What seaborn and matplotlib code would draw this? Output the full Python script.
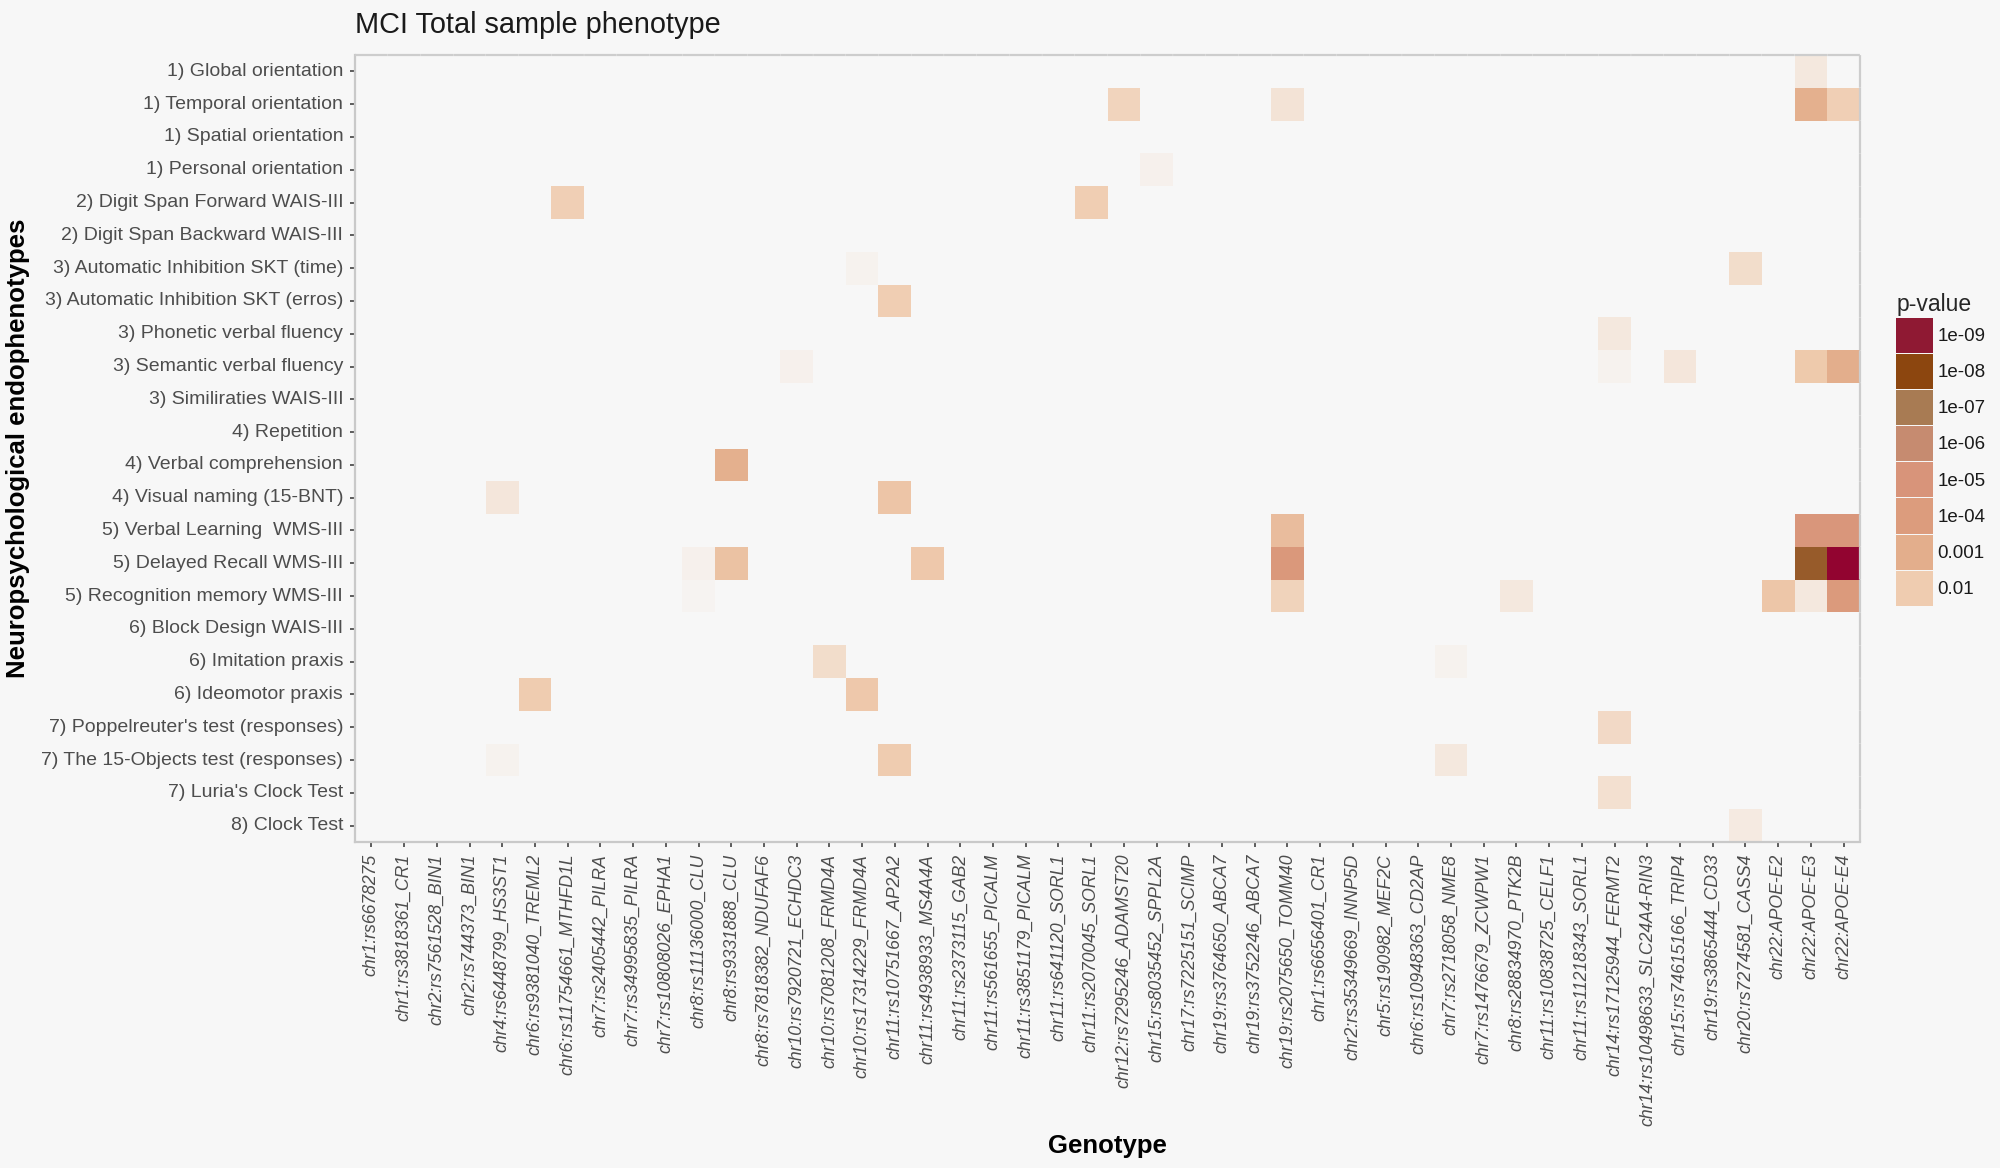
import numpy as np
import pandas as pd
import matplotlib
matplotlib.use("Agg")
import matplotlib.pyplot as plt
from matplotlib.colors import LinearSegmentedColormap
from matplotlib.patches import Patch
import seaborn as sns


# data

phenotypes = [
    "1) Global orientation",
    "1) Temporal orientation",
    "1) Spatial orientation",
    "1) Personal orientation",
    "2) Digit Span Forward WAIS-III",
    "2) Digit Span Backward WAIS-III",
    "3) Automatic Inhibition SKT (time)",
    "3) Automatic Inhibition SKT (erros)",
    "3) Phonetic verbal fluency",
    "3) Semantic verbal fluency",
    "3) Similiraties WAIS-III",
    "4) Repetition",
    "4) Verbal comprehension",
    "4) Visual naming (15-BNT)",
    "5) Verbal Learning  WMS-III",
    "5) Delayed Recall WMS-III",
    "5) Recognition memory WMS-III",
    "6) Block Design WAIS-III",
    "6) Imitation praxis",
    "6) Ideomotor praxis",
    "7) Poppelreuter's test (responses)",
    "7) The 15-Objects test (responses)",
    "7) Luria's Clock Test",
    "8) Clock Test",
]

genotypes = [
    "chr1:rs6678275", "chr1:rs3818361_CR1", "chr2:rs7561528_BIN1",
    "chr2:rs744373_BIN1", "chr4:rs6448799_HS3ST1", "chr6:rs9381040_TREML2",
    "chr6:rs11754661_MTHFD1L", "chr7:rs2405442_PILRA", "chr7:rs34995835_PILRA",
    "chr7:rs10808026_EPHA1", "chr8:rs11136000_CLU", "chr8:rs9331888_CLU",
    "chr8:rs7818382_NDUFAF6", "chr10:rs7920721_ECHDC3", "chr10:rs7081208_FRMD4A",
    "chr10:rs17314229_FRMD4A", "chr11:rs10751667_AP2A2", "chr11:rs4938933_MS4A4A",
    "chr11:rs2373115_GAB2", "chr11:rs561655_PICALM", "chr11:rs3851179_PICALM",
    "chr11:rs641120_SORL1", "chr11:rs2070045_SORL1", "chr12:rs7295246_ADAMST20",
    "chr15:rs8035452_SPPL2A", "chr17:rs7225151_SCIMP", "chr19:rs3764650_ABCA7",
    "chr19:rs3752246_ABCA7", "chr19:rs2075650_TOMM40", "chr1:rs6656401_CR1",
    "chr2:rs35349669_INNP5D", "chr5:rs190982_MEF2C", "chr6:rs10948363_CD2AP",
    "chr7:rs2718058_NME8", "chr7:rs1476679_ZCWPW1", "chr8:rs28834970_PTK2B",
    "chr11:rs10838725_CELF1", "chr11:rs11218343_SORL1", "chr14:rs17125944_FERMT2",
    "chr14:rs10498633_SLC24A4-RIN3", "chr15:rs74615166_TRIP4", "chr19:rs3865444_CD33",
    "chr20:rs7274581_CASS4", "chr22:APOE-E2", "chr22:APOE-E3", "chr22:APOE-E4",
]

# significant associations (phenotype, genotype, p-value)
hit_pheno = [
    "1) Global orientation",
    "1) Temporal orientation", "1) Temporal orientation", "1) Temporal orientation",
    "1) Temporal orientation",
    "1) Personal orientation",
    "2) Digit Span Forward WAIS-III", "2) Digit Span Forward WAIS-III",
    "3) Automatic Inhibition SKT (time)", "3) Automatic Inhibition SKT (time)",
    "3) Automatic Inhibition SKT (erros)",
    "3) Phonetic verbal fluency",
    "3) Semantic verbal fluency", "3) Semantic verbal fluency", "3) Semantic verbal fluency",
    "3) Semantic verbal fluency", "3) Semantic verbal fluency",
    "4) Verbal comprehension",
    "4) Visual naming (15-BNT)", "4) Visual naming (15-BNT)",
    "5) Verbal Learning  WMS-III", "5) Verbal Learning  WMS-III", "5) Verbal Learning  WMS-III",
    "5) Delayed Recall WMS-III", "5) Delayed Recall WMS-III", "5) Delayed Recall WMS-III",
    "5) Delayed Recall WMS-III", "5) Delayed Recall WMS-III", "5) Delayed Recall WMS-III",
    "5) Recognition memory WMS-III", "5) Recognition memory WMS-III",
    "5) Recognition memory WMS-III", "5) Recognition memory WMS-III",
    "5) Recognition memory WMS-III", "5) Recognition memory WMS-III",
    "6) Imitation praxis", "6) Imitation praxis",
    "6) Ideomotor praxis", "6) Ideomotor praxis",
    "7) Poppelreuter's test (responses)",
    "7) The 15-Objects test (responses)", "7) The 15-Objects test (responses)",
    "7) The 15-Objects test (responses)",
    "7) Luria's Clock Test",
    "8) Clock Test",
]
hit_geno = [
    "chr22:APOE-E3",
    "chr12:rs7295246_ADAMST20", "chr19:rs2075650_TOMM40", "chr22:APOE-E3",
    "chr22:APOE-E4",
    "chr15:rs8035452_SPPL2A",
    "chr6:rs11754661_MTHFD1L", "chr11:rs2070045_SORL1",
    "chr10:rs17314229_FRMD4A", "chr20:rs7274581_CASS4",
    "chr11:rs10751667_AP2A2",
    "chr14:rs17125944_FERMT2",
    "chr10:rs7920721_ECHDC3", "chr14:rs17125944_FERMT2", "chr15:rs74615166_TRIP4",
    "chr22:APOE-E3", "chr22:APOE-E4",
    "chr8:rs9331888_CLU",
    "chr4:rs6448799_HS3ST1", "chr11:rs10751667_AP2A2",
    "chr19:rs2075650_TOMM40", "chr22:APOE-E3", "chr22:APOE-E4",
    "chr8:rs11136000_CLU", "chr8:rs9331888_CLU", "chr11:rs4938933_MS4A4A",
    "chr19:rs2075650_TOMM40", "chr22:APOE-E3", "chr22:APOE-E4",
    "chr8:rs11136000_CLU", "chr19:rs2075650_TOMM40",
    "chr8:rs28834970_PTK2B", "chr22:APOE-E2",
    "chr22:APOE-E3", "chr22:APOE-E4",
    "chr10:rs7081208_FRMD4A", "chr7:rs2718058_NME8",
    "chr6:rs9381040_TREML2", "chr10:rs17314229_FRMD4A",
    "chr14:rs17125944_FERMT2",
    "chr4:rs6448799_HS3ST1", "chr11:rs10751667_AP2A2",
    "chr7:rs2718058_NME8",
    "chr14:rs17125944_FERMT2",
    "chr20:rs7274581_CASS4",
]
hit_pval = [
    0.045,
    0.016, 0.035, 0.0012,
    0.012,
    0.07,
    0.012, 0.011,
    0.075, 0.025,
    0.011,
    0.045,
    0.07, 0.075, 0.04,
    0.009, 0.001,
    0.0012,
    0.04, 0.006,
    0.003, 2e-05, 1.5e-05,
    0.07, 0.005, 0.008,
    3e-05, 2.5e-08, 4e-10,
    0.08, 0.015,
    0.045, 0.007,
    0.045, 5e-05,
    0.025, 0.075,
    0.01, 0.008,
    0.02,
    0.075, 0.01,
    0.045,
    0.03,
    0.05,
]

legend_breaks = [1e-09, 1e-08, 1e-07, 1e-06, 1e-05, 1e-04, 0.001, 0.01]
legend_labels = ["1e-09", "1e-08", "1e-07", "1e-06", "1e-05", "1e-04", "0.001", "0.01"]


# tidy -> matrix of -log10(p)

hits = pd.DataFrame({"pheno": hit_pheno, "geno": hit_geno, "p": hit_pval})
mat = hits.pivot(index="pheno", columns="geno", values="p")
mat = mat.reindex(index=phenotypes, columns=genotypes)
logp = -np.log10(mat)

vmax = 9.5
stops = [(0.0, "#F7F7F7"), (1.0, "#F7F7F7"), (2.0, "#EFCBAE"), (3.0, "#E3AD8B"),
         (4.0, "#DC9C7D"), (5.0, "#D8947A"), (6.0, "#C68B70"), (7.0, "#A87B53"),
         (8.0, "#8C460F"), (9.0, "#8F1A33"), (9.5, "#930030")]
cmap = LinearSegmentedColormap.from_list("pval", [(v / vmax, c) for v, c in stops])


# plot

sns.set_style("white")
plt.rcParams["font.family"] = ["Liberation Sans", "DejaVu Sans"]
plt.rcParams["lines.scale_dashes"] = False

bg = "#F7F7F7"
fig = plt.figure(figsize=(20, 11.68), dpi=100, facecolor=bg)
ax = fig.add_axes([0.1775, 0.2791, 0.7525, 0.6738])
ax.set_facecolor(bg)

sns.heatmap(logp, cmap=cmap, vmin=0, vmax=vmax, cbar=False, ax=ax,
            xticklabels=genotypes, yticklabels=phenotypes, linewidths=0)

ax.set_xticklabels(genotypes, rotation=90, fontsize=12.7, style="italic",
                   color="#4D4D4D", ha="center", va="top")
ax.set_yticklabels(phenotypes, rotation=0, fontsize=14, color="#4D4D4D")
ax.tick_params(axis="both", which="both", length=3.5, width=1.1, color="#333333",
               bottom=True, left=True, top=False, right=False, pad=5)

# axis lines: solid on left/bottom, broken at every tile edge on top/right
for side in ["left", "bottom"]:
    ax.spines[side].set_visible(True)
    ax.spines[side].set_color("#C9C9C9")
    ax.spines[side].set_linewidth(1.6)
cell_w = 20 * 72 * 0.7525 / len(genotypes)
cell_h = 11.68 * 72 * 0.6738 / len(phenotypes)
gap = 1.8
for side, cell in [("top", cell_w), ("right", cell_h)]:
    ax.spines[side].set_visible(True)
    ax.spines[side].set_color("#CDCDCD")
    ax.spines[side].set_linewidth(1.6)
    ax.spines[side].set_linestyle((cell - gap / 2, (cell - gap, gap)))

ax.set_title("MCI Total sample phenotype", loc="left", fontsize=20.8,
             color="#1A1A1A", pad=16)
ax.set_xlabel("Genotype", fontsize=18.5, fontweight="bold", color="black")
ax.set_ylabel("Neuropsychological endophenotypes", fontsize=18.5,
              fontweight="bold", color="black")
ax.xaxis.set_label_coords(0.5, -0.386)
ax.xaxis.label.set_va("center")
ax.yaxis.set_label_coords(-0.224, 0.5)
ax.yaxis.label.set_va("center")

# legend keys taken from the same colour scale
handles = [Patch(facecolor=cmap(-np.log10(b) / vmax), edgecolor="none")
           for b in legend_breaks]
leg = fig.legend(handles, legend_labels, title="p-value", loc="upper left",
                 bbox_to_anchor=(1887 / 2000, 1 - 284 / 1168), frameon=False,
                 fontsize=13.5, title_fontsize=16.5, handlelength=1.95,
                 handleheight=2.5, labelspacing=0.06, handletextpad=0.25,
                 borderpad=0, alignment="left")
for t in leg.get_texts():
    t.set_color("#1A1A1A")

fig.savefig("out.png", dpi=100, facecolor=bg)
